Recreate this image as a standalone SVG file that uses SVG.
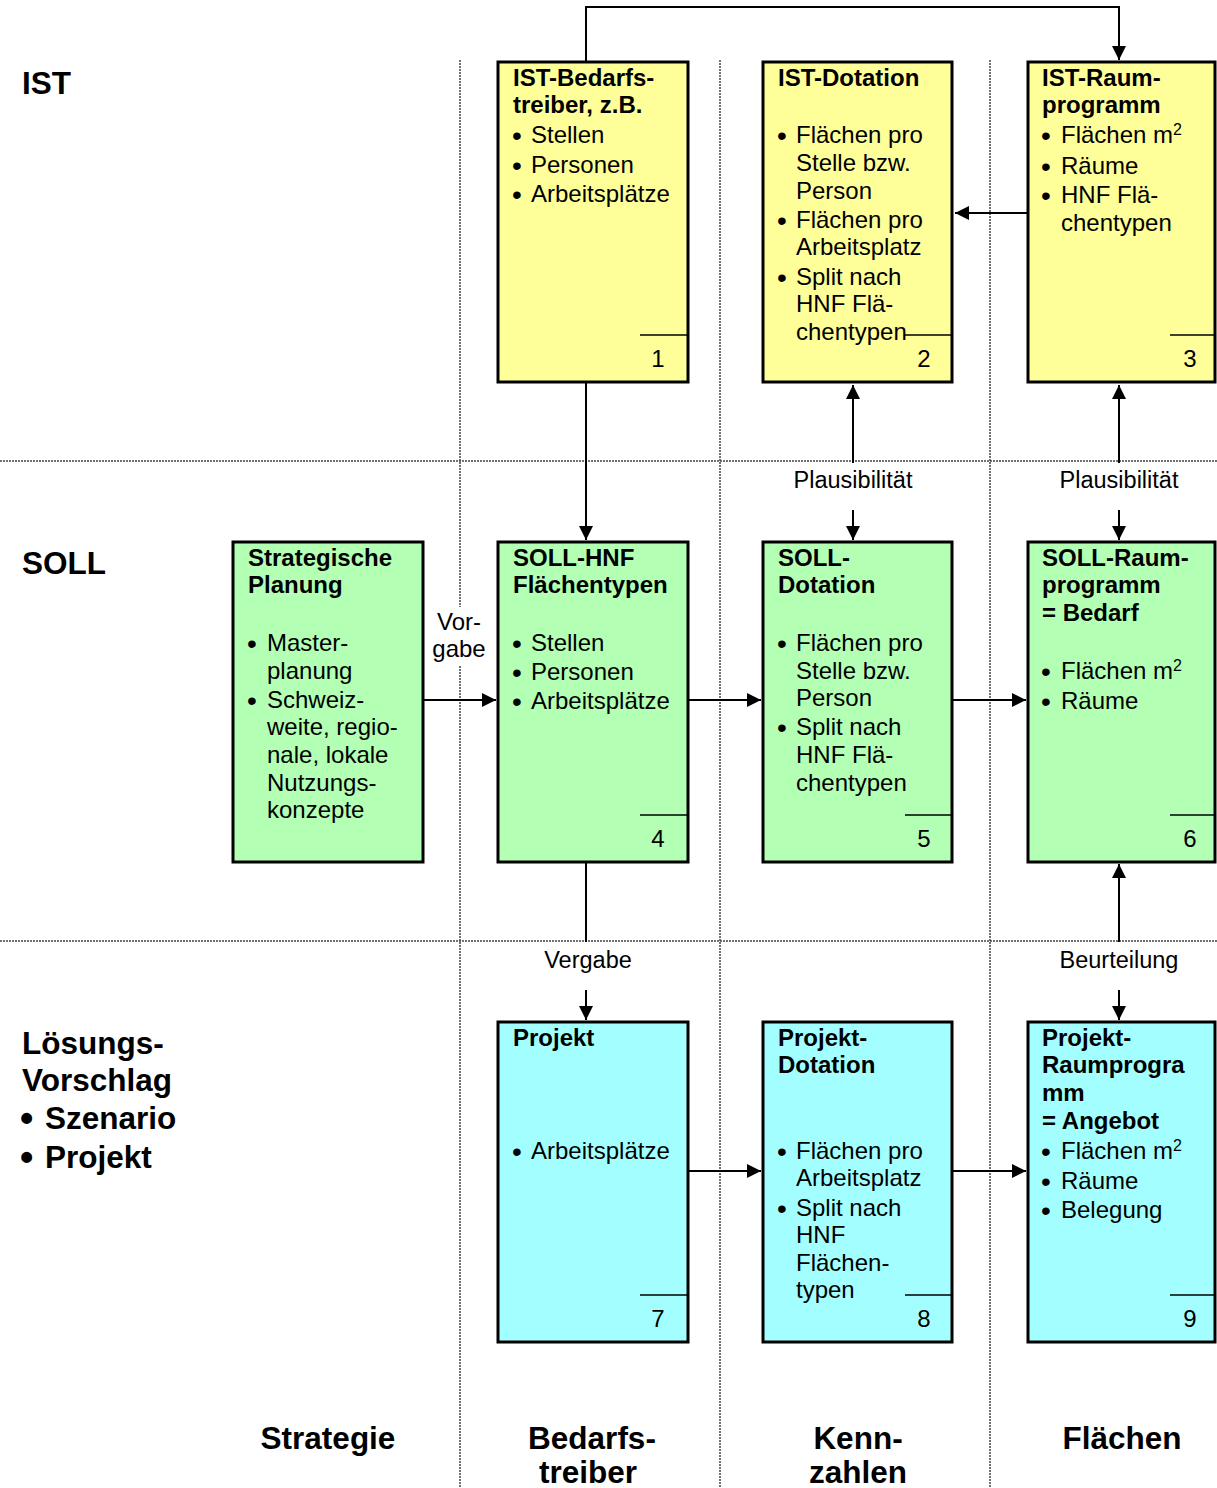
<svg xmlns="http://www.w3.org/2000/svg" width="1217" height="1488" viewBox="0 0 1217 1488">
<style>
text{font-family:"Liberation Sans",Arial,sans-serif;fill:#000}
.h{font-size:24px;font-weight:bold}
.n{font-size:24px}
.big{font-size:31.5px;font-weight:bold}
.lbl{font-size:23.5px}
.bu{font-size:28px}
.bb{font-size:38px}
.box{stroke:#000;stroke-width:3}
.y{fill:#FFFF99}.g{fill:#B3FFB3}.c{fill:#A3FFFF}
.sep{stroke:#000;stroke-width:1.5}
.dot{stroke:#444;stroke-width:1.5;stroke-dasharray:2 1;fill:none}
.con{stroke:#000;stroke-width:2;fill:none}
.sup{font-size:16px}
</style>
<defs>
<marker id="ah" markerUnits="userSpaceOnUse" markerWidth="16" markerHeight="16" refX="14" refY="7" orient="auto">
<path d="M0,0 L14,7 L0,14 Z" fill="#000"/>
</marker>
</defs>
<rect width="1217" height="1488" fill="#fff"/>
<g id="grid">
<line class="dot" x1="0" y1="461" x2="1217" y2="461"/>
<line class="dot" x1="0" y1="941" x2="1217" y2="941"/>
<line class="dot" x1="460" y1="60" x2="460" y2="1488"/>
<line class="dot" x1="720" y1="60" x2="720" y2="1488"/>
<line class="dot" x1="990" y1="60" x2="990" y2="1488"/>
</g>
<g id="rowlabels">
<text class="big" x="22" y="94">IST</text>
<text class="big" x="22" y="574">SOLL</text>
<text class="big" x="22" y="1054">Lösungs-</text>
<text class="big" x="22" y="1091">Vorschlag</text>
<text class="big"><tspan class="bb" x="20" y="1131">•</tspan><tspan x="45" y="1129">Szenario</tspan><tspan class="bb" x="20" y="1170">•</tspan><tspan x="45" y="1168">Projekt</tspan></text>
</g>
<g id="collabels">
<text class="big" x="328" y="1449" text-anchor="middle">Strategie</text>
<text class="big" x="592" y="1449" text-anchor="middle">Bedarfs-</text>
<text class="big" x="588" y="1483" text-anchor="middle">treiber</text>
<text class="big" x="858" y="1449" text-anchor="middle">Kenn-</text>
<text class="big" x="858" y="1483" text-anchor="middle">zahlen</text>
<text class="big" x="1122" y="1449" text-anchor="middle">Flächen</text>
</g>
<g id="connectors">
<polyline class="con" points="586,62 586,7 1119,7 1119,60" marker-end="url(#ah)"/>
<line class="con" x1="1028" y1="213" x2="955" y2="213" marker-end="url(#ah)"/>
<line class="con" x1="586" y1="383" x2="586" y2="540" marker-end="url(#ah)"/>
<line class="con" x1="853" y1="463" x2="853" y2="385" marker-end="url(#ah)"/>
<line class="con" x1="853" y1="510" x2="853" y2="540" marker-end="url(#ah)"/>
<line class="con" x1="1119" y1="463" x2="1119" y2="385" marker-end="url(#ah)"/>
<line class="con" x1="1119" y1="510" x2="1119" y2="540" marker-end="url(#ah)"/>
<line class="con" x1="419" y1="700" x2="496" y2="700" marker-end="url(#ah)"/>
<line class="con" x1="688" y1="700" x2="761" y2="700" marker-end="url(#ah)"/>
<line class="con" x1="952" y1="700" x2="1026" y2="700" marker-end="url(#ah)"/>
<line class="con" x1="586" y1="862" x2="586" y2="942"/>
<line class="con" x1="586" y1="990" x2="586" y2="1020" marker-end="url(#ah)"/>
<line class="con" x1="1119" y1="942" x2="1119" y2="864" marker-end="url(#ah)"/>
<line class="con" x1="1119" y1="990" x2="1119" y2="1020" marker-end="url(#ah)"/>
<line class="con" x1="688" y1="1171" x2="761" y2="1171" marker-end="url(#ah)"/>
<line class="con" x1="952" y1="1171" x2="1026" y2="1171" marker-end="url(#ah)"/>
<rect x="436" y="607" width="46" height="58" fill="#fff"/>
<text class="n" x="459" y="630" text-anchor="middle">Vor-</text>
<text class="n" x="459" y="657" text-anchor="middle">gabe</text>
<text class="lbl" x="853" y="488" text-anchor="middle">Plausibilität</text>
<text class="lbl" x="1119" y="488" text-anchor="middle">Plausibilität</text>
<text class="lbl" x="588" y="968" text-anchor="middle">Vergabe</text>
<text class="lbl" x="1119" y="968" text-anchor="middle">Beurteilung</text>
</g>
<g id="n1">
<rect class="box y" x="498" y="62" width="190" height="320"/>
<line class="sep" x1="640" y1="335" x2="688" y2="335"/>
<text class="n" x="658" y="367" text-anchor="middle">1</text>
<text class="h" x="513" y="86">IST-Bedarfs-</text>
<text class="h" x="513" y="113">treiber, z.B.</text>
<text class="n"><tspan class="bu" x="512" y="145">•</tspan><tspan x="531" y="143">Stellen</tspan><tspan class="bu" x="512" y="175">•</tspan><tspan x="531" y="173">Personen</tspan><tspan class="bu" x="512" y="204">•</tspan><tspan x="531" y="202">Arbeitsplätze</tspan></text>
</g>
<g id="n2">
<rect class="box y" x="763" y="62" width="189" height="320"/>
<text class="h" x="778" y="86">IST-Dotation</text>
<text class="n"><tspan class="bu" x="777" y="145">•</tspan><tspan x="796" y="143">Flächen pro</tspan><tspan x="796" y="171">Stelle bzw.</tspan><tspan x="796" y="199">Person</tspan><tspan class="bu" x="777" y="230">•</tspan><tspan x="796" y="228">Flächen pro</tspan><tspan x="796" y="255">Arbeitsplatz</tspan><tspan class="bu" x="777" y="287">•</tspan><tspan x="796" y="285">Split nach</tspan><tspan x="796" y="312">HNF Flä-</tspan><tspan x="796" y="340">chentypen</tspan></text>
<line class="sep" x1="905" y1="335" x2="952" y2="335"/>
<text class="n" x="924" y="367" text-anchor="middle">2</text>
</g>
<g id="n3">
<rect class="box y" x="1028" y="62" width="187" height="320"/>
<line class="sep" x1="1170" y1="335" x2="1215" y2="335"/>
<text class="n" x="1190" y="367" text-anchor="middle">3</text>
<text class="h" x="1042" y="86">IST-Raum-</text>
<text class="h" x="1042" y="113">programm</text>
<text class="n"><tspan class="bu" x="1041" y="145">•</tspan><tspan x="1061" y="143">Flächen m</tspan><tspan class="sup" dy="-8">2</tspan><tspan class="bu" x="1041" y="176">•</tspan><tspan x="1061" y="174">Räume</tspan><tspan class="bu" x="1041" y="205">•</tspan><tspan x="1061" y="203">HNF Flä-</tspan><tspan x="1061" y="231">chentypen</tspan></text>
</g>
<g id="n0">
<rect class="box g" x="233" y="542" width="190" height="320"/>
<text class="h" x="248" y="566">Strategische</text>
<text class="h" x="248" y="593">Planung</text>
<text class="n"><tspan class="bu" x="247" y="653">•</tspan><tspan x="267" y="651">Master-</tspan><tspan x="267" y="679">planung</tspan><tspan class="bu" x="247" y="710">•</tspan><tspan x="267" y="708">Schweiz-</tspan><tspan x="267" y="735">weite, regio-</tspan><tspan x="267" y="763">nale, lokale</tspan><tspan x="267" y="791">Nutzungs-</tspan><tspan x="267" y="818">konzepte</tspan></text>
</g>
<g id="n4">
<rect class="box g" x="498" y="542" width="190" height="320"/>
<line class="sep" x1="640" y1="815" x2="688" y2="815"/>
<text class="n" x="658" y="847" text-anchor="middle">4</text>
<text class="h" x="513" y="566">SOLL-HNF</text>
<text class="h" x="513" y="593">Flächentypen</text>
<text class="n"><tspan class="bu" x="512" y="653">•</tspan><tspan x="531" y="651">Stellen</tspan><tspan class="bu" x="512" y="682">•</tspan><tspan x="531" y="680">Personen</tspan><tspan class="bu" x="512" y="711">•</tspan><tspan x="531" y="709">Arbeitsplätze</tspan></text>
</g>
<g id="n5">
<rect class="box g" x="763" y="542" width="189" height="320"/>
<line class="sep" x1="905" y1="815" x2="952" y2="815"/>
<text class="n" x="924" y="847" text-anchor="middle">5</text>
<text class="h" x="778" y="566">SOLL-</text>
<text class="h" x="778" y="593">Dotation</text>
<text class="n"><tspan class="bu" x="777" y="653">•</tspan><tspan x="796" y="651">Flächen pro</tspan><tspan x="796" y="679">Stelle bzw.</tspan><tspan x="796" y="706">Person</tspan><tspan class="bu" x="777" y="737">•</tspan><tspan x="796" y="735">Split nach</tspan><tspan x="796" y="763">HNF Flä-</tspan><tspan x="796" y="791">chentypen</tspan></text>
</g>
<g id="n6">
<rect class="box g" x="1028" y="542" width="187" height="320"/>
<line class="sep" x1="1170" y1="815" x2="1215" y2="815"/>
<text class="n" x="1190" y="847" text-anchor="middle">6</text>
<text class="h" x="1042" y="566">SOLL-Raum-</text>
<text class="h" x="1042" y="593">programm</text>
<text class="h" x="1042" y="621">= Bedarf</text>
<text class="n"><tspan class="bu" x="1041" y="681">•</tspan><tspan x="1061" y="679">Flächen m</tspan><tspan class="sup" dy="-8">2</tspan><tspan class="bu" x="1041" y="711">•</tspan><tspan x="1061" y="709">Räume</tspan></text>
</g>
<g id="n7">
<rect class="box c" x="498" y="1022" width="190" height="320"/>
<line class="sep" x1="640" y1="1295" x2="688" y2="1295"/>
<text class="n" x="658" y="1327" text-anchor="middle">7</text>
<text class="h" x="513" y="1046">Projekt</text>
<text class="n"><tspan class="bu" x="512" y="1161">•</tspan><tspan x="531" y="1159">Arbeitsplätze</tspan></text>
</g>
<g id="n8">
<rect class="box c" x="763" y="1022" width="189" height="320"/>
<line class="sep" x1="905" y1="1295" x2="952" y2="1295"/>
<text class="n" x="924" y="1327" text-anchor="middle">8</text>
<text class="h" x="778" y="1046">Projekt-</text>
<text class="h" x="778" y="1073">Dotation</text>
<text class="n"><tspan class="bu" x="777" y="1161">•</tspan><tspan x="796" y="1159">Flächen pro</tspan><tspan x="796" y="1186">Arbeitsplatz</tspan><tspan class="bu" x="777" y="1218">•</tspan><tspan x="796" y="1216">Split nach</tspan><tspan x="796" y="1243">HNF</tspan><tspan x="796" y="1271">Flächen-</tspan><tspan x="796" y="1298">typen</tspan></text>
</g>
<g id="n9">
<rect class="box c" x="1028" y="1022" width="187" height="320"/>
<line class="sep" x1="1170" y1="1295" x2="1215" y2="1295"/>
<text class="n" x="1190" y="1327" text-anchor="middle">9</text>
<text class="h" x="1042" y="1046">Projekt-</text>
<text class="h" x="1042" y="1073">Raumprogra</text>
<text class="h" x="1042" y="1101">mm</text>
<text class="h" x="1042" y="1129">= Angebot</text>
<text class="n"><tspan class="bu" x="1041" y="1161">•</tspan><tspan x="1061" y="1159">Flächen m</tspan><tspan class="sup" dy="-8">2</tspan><tspan class="bu" x="1041" y="1191">•</tspan><tspan x="1061" y="1189">Räume</tspan><tspan class="bu" x="1041" y="1220">•</tspan><tspan x="1061" y="1218">Belegung</tspan></text>
</g>
</svg>
